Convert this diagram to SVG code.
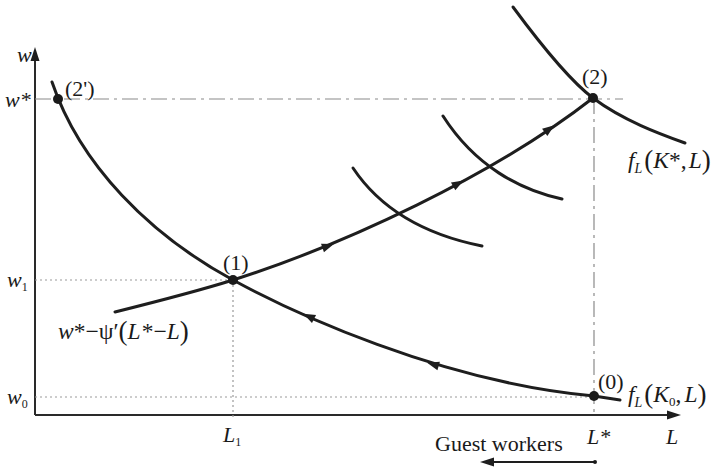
<svg xmlns="http://www.w3.org/2000/svg" width="716" height="469" viewBox="0 0 716 469">
<style>
  text { font-family: "Liberation Serif", "DejaVu Serif", "Times New Roman", serif; font-size: 22px; fill: #1a1a1a; }
  .it { font-style: italic; }
  .fm { font-size: 23.5px; }
  .curve { fill: none; stroke: #1e1e1e; stroke-width: 3; stroke-linecap: round; }
  .axis { fill: none; stroke: #2a2a2a; stroke-width: 2; }
  .dot { fill: #1a1a1a; }
  .dash { fill: none; stroke: #8a8a8a; stroke-width: 1.2; stroke-dasharray: 16 5 3 5; }
  .dotted { fill: none; stroke: #9a9a9a; stroke-width: 1.2; stroke-dasharray: 2 3; }
  .ah { fill: #1e1e1e; }
</style>
<defs>
  <path id="ah" d="M3,0 L-9,-4.5 L-9,4.5 Z"/>
</defs>

<g id="axes">
  <path class="axis" d="M35,415 V58"/>
  <polygon class="ah" points="35,47 30.5,61 39.5,61"/>
  <path class="axis" d="M35,415 H670"/>
  <polygon class="ah" points="681,415 667,410.5 667,419.5"/>
  <text class="it" x="17" y="62">w</text>
  <text class="it" x="666" y="444">L</text>
</g>

<g id="guides">
  <path class="dash" d="M35,99 H623"/>
  <path class="dash" d="M594,98 V417"/>
  <path class="dotted" d="M35,280 H233"/>
  <path class="dotted" d="M35,397 H594"/>
  <path class="dotted" d="M233,280 V419"/>
  <text class="it" x="5" y="107">w*</text>
  <text class="it" x="7" y="287">w<tspan font-size="12" font-style="normal" dy="4">1</tspan></text>
  <text class="it" x="7" y="404">w<tspan font-size="12" font-style="normal" dy="4">0</tspan></text>
  <text class="it" x="223" y="442">L<tspan font-size="12" font-style="normal" dy="4">1</tspan></text>
  <text class="it" x="587" y="444">L*</text>
</g>

<g id="connectors">
  <path id="fK0" class="curve" d="M52,82 C80,165 150,235 233,280 C290,311 440,382 594,396 L620,400"/>
  <path id="path-up" class="curve" d="M115,312 C155,302 195,292 233,280 C343,245 493,176 593,98"/>
  <path id="fKstar" class="curve" d="M513,7 C530,30 565,77 593,98 C623,120.5 660,134 685,143"/>
  <path id="mid1" class="curve" d="M353,168 C383,213 432,236 482,246"/>
  <path id="mid2" class="curve" d="M443,116 C475,166 520,190 562,199"/>
  <use href="#ah" class="ah" transform="translate(306,315) rotate(207)"/>
  <use href="#ah" class="ah" transform="translate(430,363.5) rotate(196)"/>
  <use href="#ah" class="ah" transform="translate(331,245) rotate(-19)"/>
  <use href="#ah" class="ah" transform="translate(461,182) rotate(-29)"/>
  <use href="#ah" class="ah" transform="translate(552,127) rotate(-36)"/>
  <text class="fm" x="58" y="339"><tspan class="it">w</tspan><tspan>*−ψ′</tspan><tspan font-size="27" dy="1">(</tspan><tspan class="it" dy="-1">L</tspan><tspan dx="1">*−</tspan><tspan class="it">L</tspan><tspan font-size="27" dy="1">)</tspan></text>
  <text class="fm" x="628" y="168"><tspan class="it">f</tspan><tspan class="it" font-size="14" dy="5">L</tspan><tspan font-size="27" dy="-4" dx="2">(</tspan><tspan class="it" dy="-1">K</tspan><tspan>*,</tspan><tspan class="it" dx="2">L</tspan><tspan font-size="27" dy="1">)</tspan></text>
  <text class="fm" x="628" y="402"><tspan class="it">f</tspan><tspan class="it" font-size="14" dy="5">L</tspan><tspan font-size="27" dy="-4" dx="2">(</tspan><tspan class="it" dy="-1">K</tspan><tspan font-size="13" dy="4">0</tspan><tspan dy="-4">,</tspan><tspan class="it" dx="3">L</tspan><tspan font-size="27" dy="1">)</tspan></text>
</g>

<g id="node-2prime">
  <circle class="dot" cx="58" cy="99" r="5"/>
  <text x="65" y="96">(2')</text>
</g>
<g id="node-1">
  <circle class="dot" cx="233" cy="280" r="5"/>
  <text x="223" y="270">(1)</text>
</g>
<g id="node-2">
  <circle class="dot" cx="593" cy="98" r="5"/>
  <text x="582" y="84">(2)</text>
</g>
<g id="node-0">
  <circle class="dot" cx="594" cy="396" r="5"/>
  <text x="598" y="389">(0)</text>
</g>

<g id="guest-workers">
  <text x="435" y="451">Guest workers</text>
  <path d="M595,462 H490" fill="none" stroke="#1e1e1e" stroke-width="1.8"/>
  <polygon class="ah" points="480,462 494,457.5 494,466.5"/>
  <circle class="dot" cx="595" cy="462" r="2"/>
</g>
</svg>
